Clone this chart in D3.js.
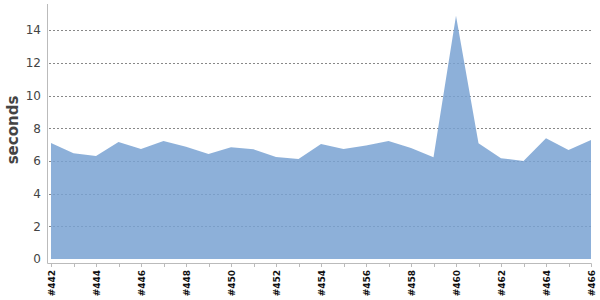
<!DOCTYPE html>
<html><head><meta charset="utf-8">
<script src="https://cdn.jsdelivr.net/npm/d3@7"></script>
<style>body{margin:0;background:#fff}svg{display:block}</style>
</head><body>
<svg id="c" width="600" height="300"></svg>
<script>
const builds = ["#442","#443","#444","#445","#446","#447","#448","#449","#450","#451","#452","#453","#454","#455","#456","#457","#458","#459","#460","#461","#462","#463","#464","#465","#466"];
const seconds = [7.1,6.47,6.3,7.16,6.73,7.22,6.86,6.43,6.84,6.71,6.24,6.12,7.04,6.73,6.94,7.22,6.79,6.22,14.88,7.08,6.16,6.0,7.39,6.67,7.28];
const yTicks = [0,2,4,6,8,10,12,14];
const yLabel = "seconds";

const svg = d3.select("#c");
const x = d3.scalePoint().domain(builds).range([51, 591]);
const y = d3.scaleLinear().domain([0, 15.6]).range([259, 4]);

// gridlines
svg.append("g").selectAll("line").data(yTicks.filter(d => d > 0)).join("line")
  .attr("x1", 49).attr("x2", 591)
  .attr("y1", d => Math.round(y(d)) + 0.5).attr("y2", d => Math.round(y(d)) + 0.5)
  .attr("stroke", "#888").attr("stroke-dasharray", "2,2").attr("stroke-width", 1);

// area
const area = d3.area().x((d, i) => x(builds[i])).y0(y(0)).y1(d => y(d));
svg.append("path").datum(seconds).attr("d", area)
  .attr("fill", "#79A2D2").attr("fill-opacity", 0.85);

// y axis line
svg.append("line").attr("x1", 47.5).attr("x2", 47.5).attr("y1", 4).attr("y2", 263.5)
  .attr("stroke", "#bbb");
// x axis line
svg.append("line").attr("x1", 47.5).attr("x2", 591.5).attr("y1", 263.5).attr("y2", 263.5)
  .attr("stroke", "#bbb");

// y tick labels
svg.append("g").selectAll("text").data(yTicks).join("text")
  .attr("x", 41).attr("y", d => y(d)).attr("dy", "0.36em")
  .attr("text-anchor", "end")
  .attr("font-family", "DejaVu Sans").attr("font-size", 12).attr("fill", "#444")
  .text(d => d);

// x ticks
svg.append("g").selectAll("line").data(builds).join("line")
  .attr("x1", d => Math.round(x(d)) + 0.5).attr("x2", d => Math.round(x(d)) + 0.5)
  .attr("y1", 263.5).attr("y2", 267)
  .attr("stroke", "#bbb");

// x labels (every other)
svg.append("g").selectAll("text").data(builds.filter((d, i) => i % 2 === 0)).join("text")
  .attr("transform", d => `translate(${x(d) + 3.5},270) rotate(-90)`)
  .attr("text-anchor", "end")
  .attr("font-family", "DejaVu Sans").attr("font-weight", "bold").attr("font-size", 9).attr("fill", "#111")
  .text(d => d);

// y label
svg.append("text")
  .attr("transform", "translate(18,130) rotate(-90)")
  .attr("text-anchor", "middle")
  .attr("font-family", "DejaVu Sans").attr("font-weight", "bold").attr("font-size", 15).attr("fill", "#444")
  .text(yLabel);
</script>
</body></html>
